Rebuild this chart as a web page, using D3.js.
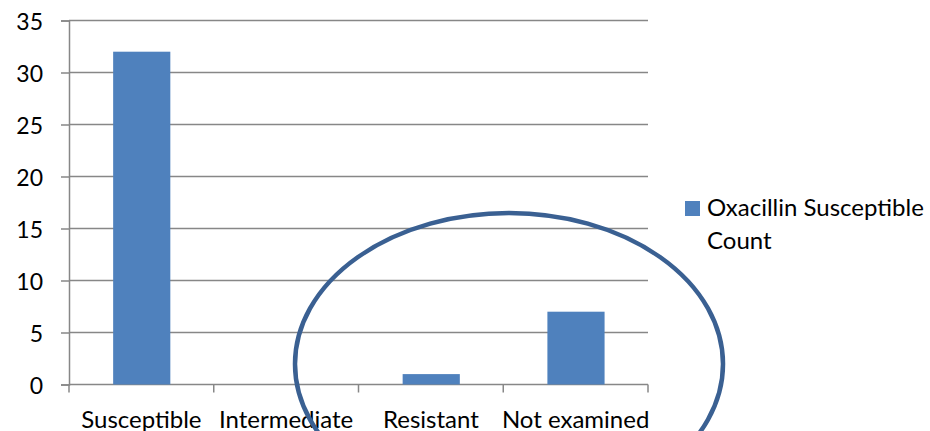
<!DOCTYPE html>
<html><head><meta charset="utf-8">
<script src="https://cdn.jsdelivr.net/npm/d3@7/dist/d3.min.js"></script>
<style>html,body{margin:0;padding:0;background:#fff;}svg{display:block;font-family:Lato,"Open Sans",sans-serif;}</style>
</head><body>
<svg id="chart" width="930" height="431"></svg>
<script>
const categories = ["Susceptible", "Intermediate", "Resistant", "Not examined"];
const values = [32, 0, 1, 7];
const seriesName = ["Oxacillin Susceptible", "Count"];
const yTicks = [0, 5, 10, 15, 20, 25, 30, 35];

(function () {
const svg = d3.select("#chart");
const mLeft = 69, mRight = 648, mTop = 20.5, mBottom = 384.5;
const x = d3.scaleBand().domain(categories).range([mLeft, mRight]).padding(0);
const y = d3.scaleLinear().domain([0, 35]).range([mBottom, mTop]);
const gridColor = "#878787";
const fs = 24;

// gridlines
svg.append("g").selectAll("line").data(yTicks.filter(d => d > 0)).join("line")
  .attr("x1", mLeft).attr("x2", mRight).attr("y1", d => y(d)).attr("y2", d => y(d))
  .attr("stroke", gridColor).attr("stroke-width", 1.5);

// y axis
const yAxis = svg.append("g").attr("transform", `translate(${mLeft},0)`)
  .call(d3.axisLeft(y).tickValues(yTicks).tickSize(8).tickPadding(18).tickFormat(d3.format("d")));
yAxis.select(".domain").attr("stroke", gridColor).attr("stroke-width", 1.5);
yAxis.selectAll(".tick line").attr("stroke", gridColor).attr("stroke-width", 1.5);
yAxis.selectAll("text").attr("font-size", fs - 1).attr("font-family", "Lato").attr("fill", "#000").attr("dy", "0.38em");

// x axis
const xAxis = svg.append("g").attr("transform", `translate(0,${mBottom})`)
  .call(d3.axisBottom(x).tickSize(0).tickPadding(0));
xAxis.select(".domain").remove();
xAxis.selectAll(".tick text").attr("font-size", fs).attr("font-family", "Lato").attr("fill", "#000")
  .attr("y", 43).attr("dy", 0);
svg.append("line").attr("x1", mLeft).attr("x2", mRight).attr("y1", mBottom).attr("y2", mBottom)
  .attr("stroke", gridColor).attr("stroke-width", 1.5);
const bounds = [...categories.map(c => x(c)), mRight];
svg.append("g").selectAll("line").data(bounds).join("line")
  .attr("x1", d => d).attr("x2", d => d).attr("y1", mBottom).attr("y2", mBottom + 8)
  .attr("stroke", gridColor).attr("stroke-width", 1.5);

// bars
const bw = x.bandwidth();
svg.append("g").selectAll("rect").data(categories.map((c, i) => ({c, v: values[i]}))).join("rect")
  .attr("x", d => x(d.c) + bw * 0.305).attr("width", bw * 0.395)
  .attr("y", d => y(d.v)).attr("height", d => y(0) - y(d.v))
  .attr("fill", "#4F81BD");

// legend
const lg = svg.append("g");
lg.append("rect").attr("x", 685).attr("y", 201).attr("width", 15).attr("height", 15).attr("fill", "#4F81BD");
lg.selectAll("text").data(seriesName).join("text")
  .attr("x", 707).attr("y", (d, i) => 216 + i * 33)
  .attr("font-size", fs).attr("font-family", "Lato").attr("fill", "#000").text(d => d);

// annotation ellipse
svg.append("ellipse").attr("cx", 509).attr("cy", 364).attr("rx", 214).attr("ry", 151)
  .attr("fill", "none").attr("stroke", "#3A6092").attr("stroke-width", 4.5);
})();
</script>
</body></html>
